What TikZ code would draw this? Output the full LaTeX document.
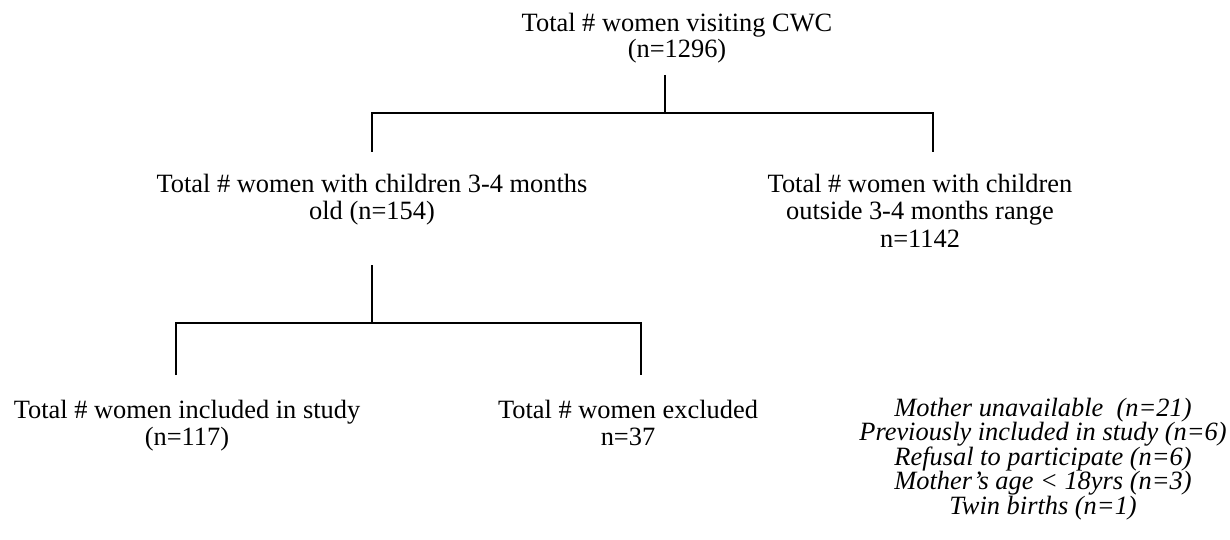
\documentclass[tikz,border=0pt]{standalone}
\usepackage{fontspec}
\setmainfont{Liberation Serif}
\begin{document}
\begin{tikzpicture}[x=1pt,y=-1pt,
  lbl/.style={align=center, inner sep=0pt, anchor=base, font=\fontsize{26.4}{27.5}\selectfont},
  toplbl/.style={lbl, font=\fontsize{26.4}{26}\selectfont},
  note/.style={lbl, font=\fontsize{26.4}{24.5}\selectfont\itshape},
  link/.style={line width=2pt, line join=miter}]
\useasboundingbox (0,0) rectangle (1230,540);
% text nodes (anchor = baseline of the last line)
\node[toplbl] (top) at (677,58) {Total \# women visiting CWC\\(n=1296)};
\node[lbl] (mid) at (372,219.5) {Total \# women with children 3-4 months\\old (n=154)};
\node[lbl] (out) at (920,247) {Total \# women with children\\outside 3-4 months range\\n=1142};
\node[lbl] (inc) at (187,445.5) {Total \# women included in study\\(n=117)};
\node[lbl] (exc) at (628,445.5) {Total \# women excluded\\n=37};
\node[note] (rsn) at (1043,514) {Mother unavailable\ \ (n=21)\\Previously included in study (n=6)\\Refusal to participate (n=6)\\Mother’s age < 18yrs (n=3)\\Twin births (n=1)};
% connector points
\coordinate (t0) at (665,75);
\coordinate (j1) at (665,113);
\coordinate (a1) at (372,113);
\coordinate (a2) at (372,152);
\coordinate (b1) at (933,113);
\coordinate (b2) at (933,152);
\coordinate (c1) at (372,265);
\coordinate (c2) at (372,323);
\coordinate (d1) at (176,323);
\coordinate (d2) at (176,375);
\coordinate (e1) at (641,323);
\coordinate (e2) at (641,375);
% connectors
\draw[link] (t0) -- (j1);
\draw[link] (a2) -- (a1) -- (b1) -- (b2);
\draw[link] (c1) -- (c2);
\draw[link] (d2) -- (d1) -- (e1) -- (e2);
\end{tikzpicture}
\end{document}
